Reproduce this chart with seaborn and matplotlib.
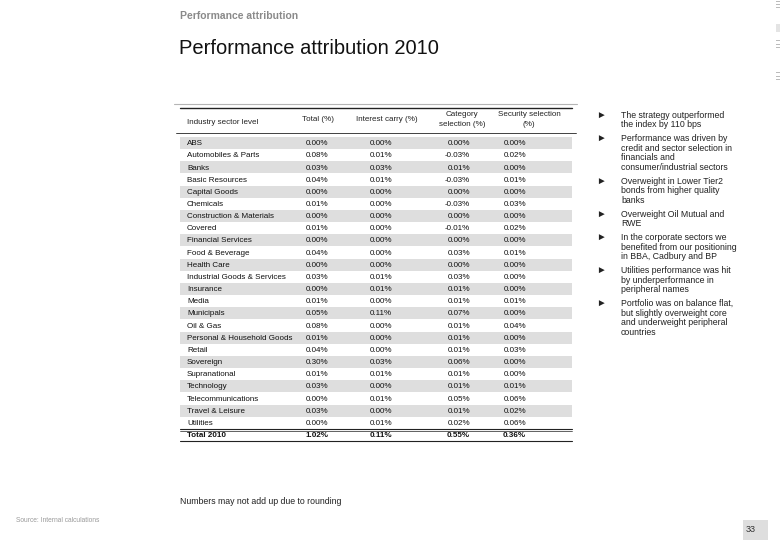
import matplotlib
matplotlib.use("Agg")
import matplotlib.pyplot as plt
import numpy as np
import seaborn as sns
from matplotlib.colors import ListedColormap
from matplotlib.patches import Rectangle
from matplotlib.lines import Line2D

# table data (attribution in %)
sectors = ["ABS", "Automobiles & Parts", "Banks", "Basic Resources", "Capital Goods",
           "Chemicals", "Construction & Materials", "Covered", "Financial Services",
           "Food & Beverage", "Health Care", "Industrial Goods & Services", "Insurance",
           "Media", "Municipals", "Oil & Gas", "Personal & Household Goods", "Retail",
           "Sovereign", "Supranational", "Technology", "Telecommunications",
           "Travel & Leisure", "Utilities", "Total 2010"]
total_vals = [0.00, 0.08, 0.03, 0.04, 0.00, 0.01, 0.00, 0.01, 0.00, 0.04, 0.00, 0.03,
              0.00, 0.01, 0.05, 0.08, 0.01, 0.04, 0.30, 0.01, 0.03, 0.00, 0.03, 0.00, 1.02]
carry_vals = [0.00, 0.01, 0.03, 0.01, 0.00, 0.00, 0.00, 0.00, 0.00, 0.00, 0.00, 0.01,
              0.01, 0.00, 0.11, 0.00, 0.00, 0.00, 0.03, 0.01, 0.00, 0.01, 0.00, 0.01, 0.11]
category_vals = [0.00, -0.03, 0.01, -0.03, 0.00, -0.03, 0.00, -0.01, 0.00, 0.03, 0.00, 0.03,
                 0.01, 0.01, 0.07, 0.01, 0.01, 0.01, 0.06, 0.01, 0.01, 0.05, 0.01, 0.02, 0.55]
security_vals = [0.00, 0.02, 0.00, 0.01, 0.00, 0.03, 0.00, 0.02, 0.00, 0.01, 0.00, 0.00,
                 0.00, 0.01, 0.00, 0.04, 0.00, 0.03, 0.00, 0.00, 0.01, 0.06, 0.02, 0.06, 0.36]
headers = ["Industry sector level", "Total (%)", "Interest carry (%)",
           "Category\nselection (%)", "Security selection\n(%)"]

bullets = [
    ["The strategy outperformed", "the index by 110 bps"],
    ["Performance was driven by", "credit and sector selection in",
     "financials and", "consumer/industrial sectors"],
    ["Overweight in Lower Tier2", "bonds from higher quality", "banks"],
    ["Overweight Oil Mutual and", "RWE"],
    ["In the corporate sectors we", "benefited from our positioning",
     "in BBA, Cadbury and BP"],
    ["Utilities performance was hit", "by underperformance in", "peripheral names"],
    ["Portfolio was on balance flat,", "but slightly overweight core",
     "and underweight peripheral", "countries"],
]

sns.set_theme(style="white")
plt.rcParams['font.family'] = ['Liberation Sans', 'DejaVu Sans']

W, H = 780, 540


def fx(x):
    return x / W


def fy(y):
    return 1 - y / H


fig = plt.figure(figsize=(7.8, 5.4), dpi=100)

# slide header
fig.text(fx(180), fy(16), "Performance attribution", fontsize=7.5, fontweight="bold",
         color="#8a8a8a", va="center")
fig.text(fx(179), fy(49), "Performance attribution 2010", fontsize=14.5, color="#111111",
         va="center")

# table: row stripes drawn as a one-column heatmap
top_px, bot_px, left_px, right_px = 100, 441, 180, 572
ax = fig.add_axes([fx(left_px), fy(bot_px), (right_px - left_px) / W, (bot_px - top_px) / H])
n = len(sectors)
stripe = np.array([[1 if (i % 2 == 0 and i < n - 1) else 0] for i in range(n)])
sns.heatmap(stripe, cmap=ListedColormap(["white", "#dedede"]), vmin=0, vmax=1, cbar=False,
            xticklabels=False, yticklabels=False, ax=ax)
row_px = (bot_px - 137) / n
ax.set_xlim(0, 1)
ax.set_ylim(n, -(137 - top_px) / row_px)
ax.axis("off")


def cx(px):
    return (px - left_px) / (right_px - left_px)


def ry(px):
    return -(137 - px) / row_px


col_right = [328, 392, 470, 526]
cols = [total_vals, carry_vals, category_vals, security_vals]
for i, name in enumerate(sectors):
    bold = "bold" if i == n - 1 else "normal"
    ax.text(cx(187), i + 0.55, name, fontsize=5.8, va="center", ha="left", fontweight=bold,
            color="#111111")
    for xr, vals in zip(col_right, cols):
        ax.text(cx(xr), i + 0.55, f"{vals[i]:.2f}%", fontsize=5.8, va="center", ha="right",
                fontweight=bold, color="#111111")

# header row
ax.text(cx(187), ry(123), headers[0], fontsize=5.8, va="center", ha="left", color="#222222")
hdr_x = [318, 387, 462, 529]
for xh, label in zip(hdr_x, headers[1:]):
    ax.text(cx(xh), ry(120), label, fontsize=5.8, va="center", ha="center",
            color="#222222", linespacing=1.6)

# rules
ax.add_line(Line2D([cx(174), cx(577)], [ry(104), ry(104)], color="#b5b5b5", lw=0.8,
                   clip_on=False))
ax.add_line(Line2D([0, 1], [ry(108), ry(108)], color="#222222", lw=1.0, clip_on=False))
ax.add_line(Line2D([cx(176), cx(576)], [ry(133), ry(133)], color="#222222", lw=0.6,
                   clip_on=False))
ax.add_line(Line2D([0, 1], [n - 1, n - 1], color="#222222", lw=0.8, clip_on=False))
ax.add_line(Line2D([0, 1], [n - 0.8, n - 0.8], color="#222222", lw=0.5, clip_on=False))
ax.add_line(Line2D([0, 1], [n, n], color="#222222", lw=0.8, clip_on=False))

# bullet commentary
y = 115
for block in bullets:
    fig.text(fx(601), fy(y), "\u25ba", fontsize=7, color="#222222", va="center", ha="center")
    for line in block:
        fig.text(fx(621), fy(y), line, fontsize=6.3, color="#222222", va="center")
        y += 9.8
    y += 3.6

# footnote and slide furniture
fig.text(fx(180), fy(501), "Numbers may not add up due to rounding", fontsize=6.3,
         color="#222222", va="center")
fig.text(fx(16), fy(521), "Source: Internal calculations", fontsize=4.8, color="#9a9a9a",
         va="center")
fig.add_artist(Rectangle((fx(743), 0), 25 / W, 20 / H, transform=fig.transFigure,
                         facecolor="#dedede", edgecolor="none"))
fig.text(fx(746), fy(530), "33", fontsize=6.5, color="#333333", va="center")
for yy in [1, 4, 7, 40, 44, 47, 72, 76, 79]:
    fig.add_artist(Rectangle((fx(776), fy(yy + 1)), 4 / W, 1.2 / H, transform=fig.transFigure,
                             facecolor="#bbbbbb", edgecolor="none"))
fig.add_artist(Rectangle((fx(776), fy(32)), 4 / W, 8 / H, transform=fig.transFigure,
                         facecolor="#e4e4e4", edgecolor="none"))

fig.savefig("out.png", dpi=100)
